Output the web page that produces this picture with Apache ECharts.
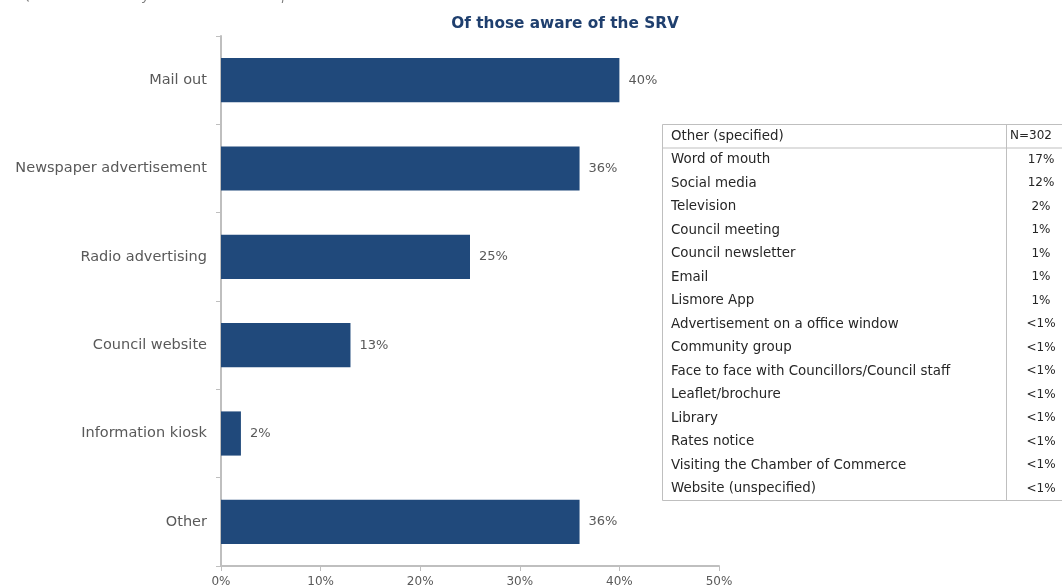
<!DOCTYPE html>
<html>
<head>
<meta charset="utf-8">
<script src="https://cdn.jsdelivr.net/npm/echarts@6/dist/echarts.min.js"></script>
<style>
  html, body { margin: 0; padding: 0; background: #fff; }
  #chart { width: 1062px; height: 588px; }
</style>
</head>
<body>
<div id="chart"></div>
<script>
// Information sources among respondents aware of the SRV
const categories = ['Mail out', 'Newspaper advertisement', 'Radio advertising', 'Council website', 'Information kiosk', 'Other'];
const shares = [40, 36, 25, 13, 2, 36];
const xTicks = [0, 10, 20, 30, 40, 50];

// Breakdown of "Other" responses
const otherHeader = ['Other (specified)', 'N=302'];
const otherItems = ['Word of mouth', 'Social media', 'Television', 'Council meeting', 'Council newsletter', 'Email', 'Lismore App',
  'Advertisement on a office window', 'Community group', 'Face to face with Councillors/Council staff', 'Leaflet/brochure',
  'Library', 'Rates notice', 'Visiting the Chamber of Commerce', 'Website (unspecified)'];
const otherValues = ['17%', '12%', '2%', '1%', '1%', '1%', '1%', '<1%', '<1%', '<1%', '<1%', '<1%', '<1%', '<1%', '<1%'];

const FONT = '"DejaVu Sans", "Noto Sans", sans-serif';
const GREY = '#595959';
const AXIS = '#bfbfbf';

// table block
const tbl = { x: 662, y: 124, w: 420, rowH: 23.5, divX: 1006, valX: 1041 };
const tableEls = [];
const rows = [otherHeader].concat(otherItems.map((t, i) => [t, otherValues[i]]));
tableEls.push({
  type: 'rect', shape: { x: tbl.x + 0.5, y: tbl.y + 0.5, width: tbl.w, height: rows.length * tbl.rowH },
  style: { fill: '#fff', stroke: AXIS, lineWidth: 1 }
});
tableEls.push({
  type: 'line', shape: { x1: tbl.divX + 0.5, y1: tbl.y, x2: tbl.divX + 0.5, y2: tbl.y + rows.length * tbl.rowH },
  style: { stroke: AXIS, lineWidth: 1 }
});
tableEls.push({
  type: 'line', shape: { x1: tbl.x, y1: tbl.y + tbl.rowH + 0.5, x2: tbl.x + tbl.w, y2: tbl.y + tbl.rowH + 0.5 },
  style: { stroke: AXIS, lineWidth: 1 }
});
rows.forEach((r, i) => {
  const cy = tbl.y + tbl.rowH * (i + 0.5) + 0.5;
  tableEls.push({
    type: 'text', x: tbl.x + 9, y: cy,
    style: { text: r[0], fill: '#262626', font: '13.4px ' + FONT, verticalAlign: 'middle', align: 'left' }
  });
  tableEls.push({
    type: 'text', x: i === 0 ? tbl.divX + 4 : tbl.valX, y: cy,
    style: { text: r[1], fill: '#262626', font: '12px ' + FONT, verticalAlign: 'middle', align: i === 0 ? 'left' : 'center' }
  });
});

const chart = echarts.init(document.getElementById('chart'));
chart.setOption({
  animation: false,
  title: {
    text: 'Of those aware of the SRV',
    left: 560, top: 12, textAlign: 'center',
    textStyle: { color: '#1f3f6e', fontSize: 15.3, fontWeight: 'bold', fontFamily: FONT }
  },
  grid: { left: 221, right: 343, top: 36, bottom: 21, containLabel: false },
  xAxis: {
    type: 'value', min: 0, max: 50, interval: 10,
    axisLine: { show: true, lineStyle: { color: AXIS, width: 2 } },
    axisTick: { show: true, length: 5, lineStyle: { color: AXIS } },
    splitLine: { show: false },
    axisLabel: { color: GREY, fontSize: 12, fontFamily: FONT, margin: 10, formatter: v => xTicks.includes(v) ? v + '%' : '' }
  },
  yAxis: {
    type: 'category', data: categories, inverse: true,
    axisLine: { show: true, lineStyle: { color: AXIS, width: 2 } },
    axisTick: { show: true, length: 5, lineStyle: { color: AXIS } },
    axisLabel: { color: GREY, fontSize: 14.5, fontFamily: FONT, margin: 14 }
  },
  series: [{
    type: 'bar', data: shares, barWidth: '50%',
    itemStyle: { color: '#20497b' },
    label: { show: true, position: 'right', distance: 9, formatter: '{c}%', color: GREY, fontSize: 13, fontFamily: FONT }
  }],
  graphic: [
    {
      type: 'text', x: 22, y: -10,
      style: { text: 'Q4b.     How were you informed of the special rate variation?', fill: '#7f7f7f', font: 'italic 13px ' + FONT }
    }
  ].concat(tableEls)
});
</script>
</body>
</html>
